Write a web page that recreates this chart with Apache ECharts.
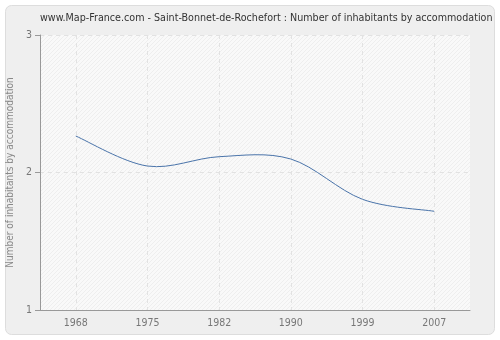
<!DOCTYPE html>
<html><head><meta charset="utf-8">
<script src="https://cdn.jsdelivr.net/npm/echarts@6/dist/echarts.min.js"></script>
<style>html,body{margin:0;padding:0;background:#fff}#c{width:500px;height:340px}</style>
</head><body><div id="c"></div>
<script>
var titleText = 'www.Map-France.com - Saint-Bonnet-de-Rochefort : Number of inhabitants by accommodation';
var yAxisName = 'Number of inhabitants by accommodation';
var years = ['1968', '1975', '1982', '1990', '1999', '2007'];
var inhabitantsPerDwelling = [2.265, 2.047, 2.115, 2.098, 1.805, 1.718];
var yTicks = [1, 2, 3];

function makePattern(bg, fg) {
  var c = document.createElement('canvas');
  c.width = 4; c.height = 4;
  var g = c.getContext('2d');
  g.fillStyle = bg; g.fillRect(0, 0, 4, 4);
  g.fillStyle = fg;
  for (var i = 0; i < 4; i++) { g.fillRect(i, 3 - i, 1, 1); }
  return c;
}
var patUpper = makePattern('#f7f7f7', '#e7e7e7');
var patLower = makePattern('#f9f9f9', '#eeeeee');

var FONT = 'DejaVu Sans Condensed, DejaVu Sans';

function renderSpline(params, api) {
  if (params.dataIndex !== 0) return null;
  var pts = [];
  for (var i = 0; i < inhabitantsPerDwelling.length; i++) {
    pts.push(api.coord([i, inhabitantsPerDwelling[i]]));
  }
  var d = 'M' + pts[0][0] + ',' + pts[0][1];
  for (var k = 0; k < pts.length - 1; k++) {
    var p0 = pts[Math.max(k - 1, 0)], p1 = pts[k], p2 = pts[k + 1], p3 = pts[Math.min(k + 2, pts.length - 1)];
    var c1x = p1[0] + (p2[0] - p0[0]) / 6, c1y = p1[1] + (p2[1] - p0[1]) / 6;
    var c2x = p2[0] - (p3[0] - p1[0]) / 6, c2y = p2[1] - (p3[1] - p1[1]) / 6;
    d += ' C' + c1x + ',' + c1y + ' ' + c2x + ',' + c2y + ' ' + p2[0] + ',' + p2[1];
  }
  return {
    type: 'path', shape: {pathData: d},
    style: {fill: null, stroke: '#4a74aa', lineWidth: 1}
  };
}

var chart = echarts.init(document.getElementById('c'), null, {renderer: 'canvas'});
chart.setOption({
  animation: false,
  backgroundColor: '#ffffff',
  title: {
    text: titleText, left: 35, top: 8,
    textStyle: {fontFamily: FONT, fontSize: 10.65, fontWeight: 'normal', color: '#333333'}
  },
  grid: {left: 40, right: 30, top: 35, bottom: 30, containLabel: false, outerBoundsMode: 'none',
    show: true, backgroundColor: {image: patLower, repeat: 'repeat'}, borderWidth: 0},
  xAxis: {
    type: 'category', data: years, boundaryGap: true,
    axisLine: {lineStyle: {color: '#999999'}},
    axisTick: {alignWithLabel: true, length: 5, lineStyle: {color: '#999999'}},
    axisLabel: {color: '#777777', fontFamily: FONT, fontSize: 10.5, margin: 8},
    splitLine: {show: true, alignWithLabel: true, lineStyle: {color: '#e2e2e2', type: [4, 4]}}
  },
  yAxis: {
    type: 'value', min: yTicks[0], max: yTicks[yTicks.length - 1], interval: 1,
    name: yAxisName, nameLocation: 'middle', nameGap: 19,
    nameTextStyle: {color: '#888888', fontFamily: FONT, fontSize: 10},
    axisLine: {show: true, lineStyle: {color: '#999999'}},
    axisTick: {show: true, length: 5, lineStyle: {color: '#999999'}},
    axisLabel: {color: '#777777', fontFamily: FONT, fontSize: 10.5, margin: 8},
    splitLine: {show: true, lineStyle: {color: '#e2e2e2', type: [4, 4]}}
  },
  series: [{
    type: 'custom', renderItem: renderSpline, data: inhabitantsPerDwelling.map(function (v, i) { return [i, v]; }),
    z: 5, clip: false
  }]
});

var tl = chart.convertToPixel({gridIndex: 0}, [0, yTicks[2]]);
var mid = chart.convertToPixel({gridIndex: 0}, [0, yTicks[1]]);
var gridRect = chart.getModel().getComponent('grid', 0).coordinateSystem.getRect();
chart.setOption({
  graphic: [{
    type: 'rect', z: -10, silent: true,
    shape: {x: 5.5, y: 5.5, width: 489, height: 329, r: 6},
    style: {fill: '#efefef', stroke: '#dddddd', lineWidth: 1}
  }, {
    type: 'rect', z: -1, silent: true,
    shape: {x: gridRect.x, y: tl[1], width: gridRect.width, height: mid[1] - tl[1]},
    style: {fill: {image: patUpper, repeat: 'repeat'}}
  }]
});
</script></body></html>
